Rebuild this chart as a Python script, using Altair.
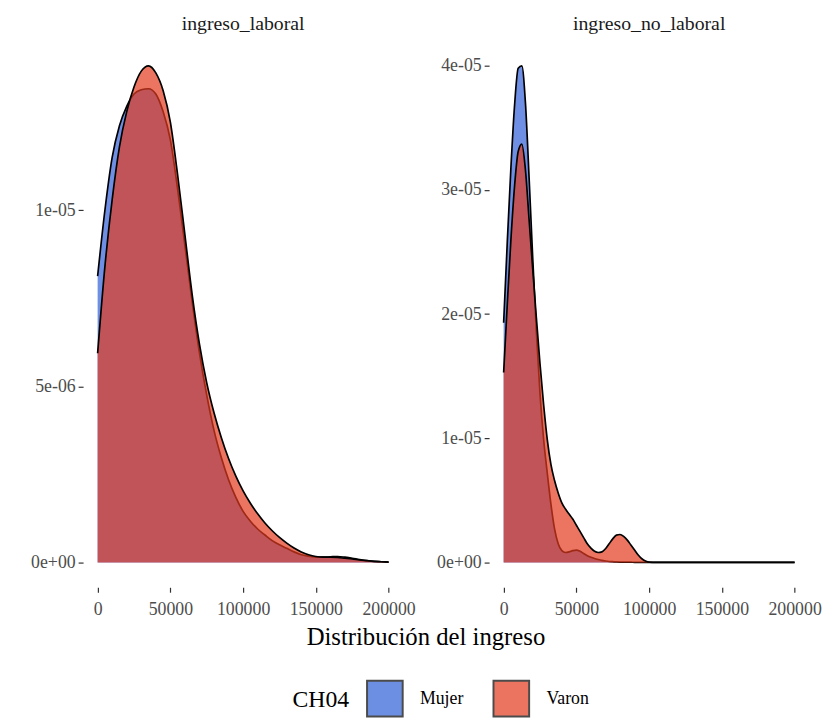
import altair as alt
import pandas as pd

FONT = "Liberation Serif"

# ---------------- data ----------------
panels = ["ingreso_laboral", "ingreso_no_laboral"]
sexos = ["Mujer", "Varon"]
colores = ["#3060D8", "#E23A1E"]

# income grid, in thousands
x_laboral_k = [0, 5, 10, 15, 20, 25, 30, 35, 40, 45, 50, 55, 60, 65, 70, 75, 80,
               85, 90, 95, 100, 105, 110, 115, 120, 125, 130, 135, 140, 145, 150,
               155, 160, 165, 170, 175, 180, 185, 190, 195, 200]
# density, in units of 1e-06
dens_laboral_mujer = [8.13, 10.0, 11.5, 12.4, 12.95, 13.3, 13.42, 13.45, 13.3, 12.8,
                      12.0, 10.6, 9.0, 7.4, 5.95, 4.75, 3.75, 2.98, 2.35, 1.85, 1.45,
                      1.17, 0.95, 0.78, 0.62, 0.5, 0.4, 0.3, 0.22, 0.18, 0.15, 0.15,
                      0.16, 0.17, 0.15, 0.12, 0.08, 0.05, 0.03, 0.02, 0.01]
dens_laboral_varon = [5.94, 8.4, 10.3, 11.8, 12.8, 13.5, 13.95, 14.1, 13.9, 13.4,
                      12.5, 11.0, 9.3, 7.6, 6.2, 5.1, 4.25, 3.55, 2.95, 2.45, 2.03,
                      1.68, 1.38, 1.12, 0.9, 0.71, 0.55, 0.41, 0.3, 0.22, 0.17, 0.15,
                      0.15, 0.14, 0.12, 0.1, 0.07, 0.05, 0.03, 0.02, 0.01]

x_no_laboral_k = [0, 2.5, 5, 7.5, 10, 12.5, 15, 17.5, 20, 22.5, 25, 27.5, 30, 32.5,
                  35, 37.5, 40, 42.5, 45, 47.5, 50, 52.5, 55, 57.5, 60, 62.5, 65,
                  67.5, 70, 72.5, 75, 77.5, 80, 82.5, 85, 87.5, 90, 92.5, 95, 97.5,
                  100, 105, 110, 115, 120, 125, 130, 135, 140, 145, 150, 155, 160,
                  165, 170, 175, 180, 185, 190, 195, 200]
dens_no_laboral_mujer = [19.3, 25.8, 31.8, 36.8, 39.8, 40.0, 37.0, 31.0, 24.5, 18.6,
                         13.6, 9.9, 7.2, 4.7, 2.7, 1.5, 0.95, 0.8, 0.85, 0.95, 1.0,
                         0.9, 0.72, 0.55, 0.42, 0.32, 0.24, 0.17, 0.12, 0.08, 0.06,
                         0.04, 0.03, 0.03, 0.02, 0.02, 0.01, 0.01, 0.01, 0.01, 0.0,
                         0, 0, 0, 0, 0, 0, 0, 0, 0, 0, 0, 0, 0, 0, 0, 0, 0, 0, 0, 0]
dens_no_laboral_varon = [15.3, 20.8, 26.0, 30.3, 33.1, 33.7, 31.6, 27.6, 23.6, 19.7,
                         16.0, 12.7, 9.9, 7.9, 6.6, 5.6, 4.8, 4.3, 3.9, 3.5, 3.0,
                         2.5, 2.0, 1.5, 1.15, 0.9, 0.8, 0.85, 1.1, 1.5, 1.9, 2.2,
                         2.25, 2.1, 1.8, 1.4, 1.0, 0.6, 0.3, 0.12, 0.03,
                         0, 0, 0, 0, 0, 0, 0, 0, 0, 0, 0, 0, 0, 0, 0, 0, 0, 0, 0, 0]

x_ticks = [0, 50000, 100000, 150000, 200000]
y_ticks_laboral = [0, 5e-06, 1e-05]
y_ticks_no_laboral = [0, 1e-05, 2e-05, 3e-05, 4e-05]


def build(xk, dm, dv):
    rows = []
    for sexo, dens in zip(sexos, [dm, dv]):
        for x, d in zip(xk, dens):
            rows.append({"ingreso": x * 1000, "densidad": d * 1e-6, "CH04": sexo})
    return pd.DataFrame(rows)


df_lab = build(x_laboral_k, dens_laboral_mujer, dens_laboral_varon)
df_nolab = build(x_no_laboral_k, dens_no_laboral_mujer, dens_no_laboral_varon)

color_scale = alt.Scale(domain=sexos, range=colores)
legend = alt.Legend(
    title="CH04", orient="none", legendX=212, legendY=646, direction="horizontal",
    titleOrient="left", titleFontSize=24, titleFontWeight="normal", titleColor="black",
    titleFont=FONT, titleBaseline="middle", titlePadding=16,
    labelFont=FONT, labelFontSize=18, labelColor="black", labelOffset=16,
    symbolType="square", symbolSize=1300, symbolStrokeColor="black",
    symbolStrokeWidth=2, symbolOpacity=0.7, columnPadding=26,
)


def panel(df, titulo, y_ticks):
    ymax = df["densidad"].max()
    xmax = max(x_ticks)
    yscale = alt.Scale(domain=[-0.05 * ymax, 1.05 * ymax], nice=False, zero=False)
    xscale = alt.Scale(domain=[-0.05 * xmax, 1.05 * xmax], nice=False, zero=False)
    xenc = alt.X("ingreso:Q", scale=xscale,
                 axis=alt.Axis(values=x_ticks, format="d", title=None,
                               labelOverlap=False, labelFlush=False, labelPadding=9))
    yenc = alt.Y("densidad:Q", scale=yscale,
                 axis=alt.Axis(values=y_ticks, title=None, labelOverlap=False,
                               labelExpr="slice(format(datum.value, '.0e'), 0, -1) + '0' + slice(format(datum.value, '.0e'), -1)"))
    layers = []
    for sexo in sexos:
        base = alt.Chart(df).transform_filter(alt.datum.CH04 == sexo)
        area = base.mark_area(fillOpacity=0.7, interpolate="monotone").encode(
            x=xenc, y=yenc, y2=alt.datum(0),
            fill=alt.Fill("CH04:N", scale=color_scale, legend=legend),
        )
        line = base.mark_line(color="black", strokeWidth=1.7,
                              interpolate="monotone").encode(x=xenc, y=yenc)
        layers += [area, line]
    return alt.layer(*layers).properties(
        width=324, height=553,
        title=alt.TitleParams(titulo, anchor="middle", fontSize=20, fontWeight="normal",
                              color="#1A1A1A", font=FONT, offset=7, frame="group"),
    )


left = panel(df_lab, panels[0], y_ticks_laboral)
right = panel(df_nolab, panels[1], y_ticks_no_laboral)

inner = alt.hconcat(left, right, spacing=20).properties(
    title=alt.TitleParams("Distribución del ingreso", orient="bottom", anchor="middle",
                          fontSize=25, fontWeight="normal", color="black", font=FONT,
                          offset=6)
)

chart = (
    alt.vconcat(inner)
    .properties(padding={"left": 22, "top": 2, "right": 0, "bottom": 0})
    .configure(font=FONT)
    .configure_view(stroke=None)
    .configure_axis(domain=False, grid=False, tickColor="#333333", tickSize=5,
                    tickWidth=1.2, labelColor="#4D4D4D", labelFontSize=18,
                    labelFont=FONT, labelPadding=3)
)

chart.save("out.html", embed_options={"renderer": "svg", "actions": False})
